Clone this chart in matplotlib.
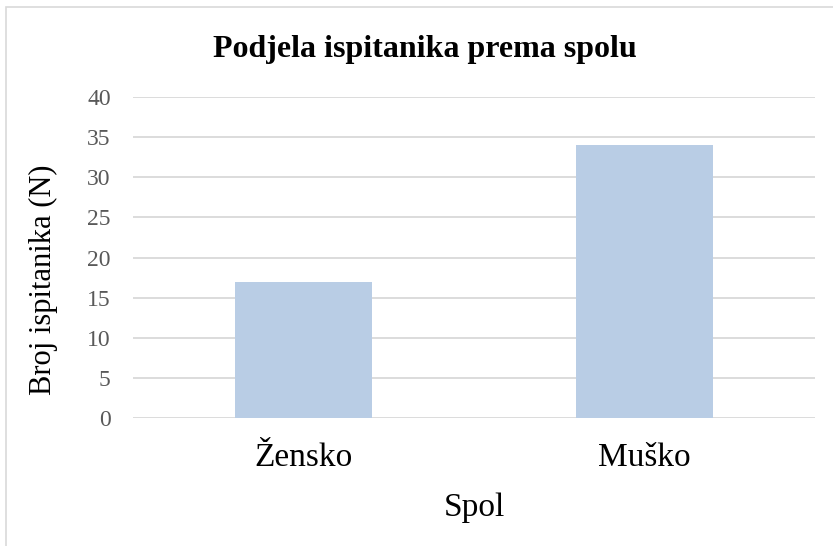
import matplotlib.pyplot as plt
from matplotlib.patches import Rectangle

categories = ["Žensko", "Muško"]
values = [17, 34]
yticks = [0, 5, 10, 15, 20, 25, 30, 35, 40]

plt.rcParams['font.family'] = ['Liberation Serif', 'DejaVu Serif']

fig = plt.figure(figsize=(8.33, 5.46), dpi=100)
ax = fig.add_axes([133 / 833, 1 - 418 / 546, (815 - 133) / 833, (418 - 97) / 546])

x = range(len(categories))
ax.bar(x, values, width=0.4, color="#b9cde5", zorder=2)
ax.set_xlim(-0.5, len(categories) - 0.5)
ax.set_ylim(0, 40)
ax.set_yticks(yticks)
ax.set_xticks(list(x))
ax.set_xticklabels(categories, fontsize=24)
ax.tick_params(axis="y", labelsize=17, labelcolor="#595959", length=0, pad=16)
ax.tick_params(axis="x", length=0, pad=18)
ax.grid(axis="y", color="#d9d9d9", linewidth=1.3, zorder=0)
for s in ax.spines.values():
    s.set_visible(False)

ax.set_xlabel("Spol", fontsize=24, labelpad=14)
ax.set_ylabel("Broj ispitanika (N)", fontsize=22, labelpad=21)
ax.yaxis.label.set_y(0.43)
fig.text(425 / 833, 1 - 49 / 546, "Podjela ispitanika prema spolu", fontsize=23,
         fontweight="bold", ha="center", va="center")

fig.patches.append(Rectangle((6 / 833, -0.1), 1.2, 1.1 - 7 / 546, transform=fig.transFigure,
                             fill=False, edgecolor="#d9d9d9", linewidth=1.2))

fig.savefig("out.png", dpi=100)
